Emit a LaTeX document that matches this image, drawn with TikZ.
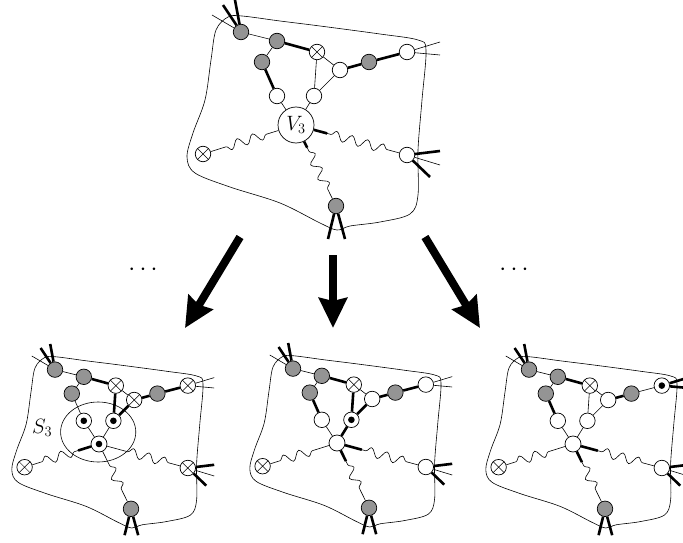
\documentclass[tikz,border=0pt]{standalone}
\usetikzlibrary{calc,arrows.meta,decorations.pathmorphing}

\tikzset{
  vtx/.style={circle,draw,line width=.7pt,minimum size=15.5pt,inner sep=0pt,fill=white},
  gr/.style={vtx,fill=black!42},
  wh/.style={vtx},
  crs/.style={vtx,path picture={\draw[line width=.5pt] (path picture bounding box.south west)--(path picture bounding box.north east) (path picture bounding box.north west)--(path picture bounding box.south east);}},
  dt/.style={vtx,path picture={\fill[black] (path picture bounding box.center) circle (3.3pt);}},
  ln/.style={line width=.6pt},
  fat/.style={line width=2.6pt},
  wig/.style={ln,decorate,decoration={snake,amplitude=4.5pt,segment length=16pt,pre length=4pt,post length=9pt}},
  bigarr/.style={line width=8pt,-{Stealth[length=30pt,width=28pt,inset=3pt]}},
  lbl/.style={font=\huge},
  % choices of the top picture, changed in the scopes below
  stC/.style=crs, stE/.style=wh, stG/.style=wh, stH/.style=wh, stI/.style=wh,
  stK/.style=wh, stV/.style={wh,minimum size=36pt},
  eDH/.style=fat, eCI/.style=ln, eEI/.style=ln, eIV/.style=ln, eEF/.style=fat,
  eFG/.style=fat, xG/.style=ln, sJ/.style=ln, sK/.style=fat, sL/.style=fat
}

% #1 prefix, #2 text in V, #3 drawn under the vertices
\newcommand{\blob}[3]{%
  \draw[ln] plot[smooth cycle,tension=.55] coordinates {(-54,-109) (-16,-104) (24,-99) (84,-91) (122,-85) (130,-75) (126,-25) (122,25) (122,70) (114,89) (84,97) (54,101) (41,105) (24,98) (-16,78) (-66,62) (-101,48) (-109,32) (-103,8) (-91,-25) (-85,-65) (-80,-95) (-68,-108)};
  #3
  \node[gr] (#1-A) at (-55,-93) {};
  \node[gr] (#1-B) at (-19,-84) {};
  \node[stC] (#1-C) at (21,-73) {};
  \node[gr] (#1-D) at (-34,-63) {};
  \node[stE] (#1-E) at (44,-55) {};
  \node[gr] (#1-F) at (73,-63) {};
  \node[stG] (#1-G) at (111,-73) {};
  \node[stH] (#1-H) at (-19,-29) {};
  \node[stI] (#1-I) at (18,-29) {};
  \node[stV,lbl] (#1-V) at (0,0) {#2};
  \node[crs] (#1-J) at (-93,29) {};
  \node[stK] (#1-K) at (111,30) {};
  \node[gr] (#1-L) at (40,81) {};
  \draw[ln] (#1-A) -- (#1-B) (#1-B) -- (#1-D) (#1-C) -- (#1-E) (#1-H) -- (#1-V);
  \draw[fat] (#1-B) -- (#1-C);
  \draw[eDH] (#1-D) -- (#1-H);
  \draw[eCI] (#1-C) -- (#1-I);
  \draw[eEI] (#1-E) -- (#1-I);
  \draw[eIV] (#1-I) -- (#1-V);
  \draw[eEF] (#1-E) -- (#1-F);
  \draw[eFG] (#1-F) -- (#1-G);
  \foreach \t in {J,K,L}{
    \coordinate (#1-k\t) at ($(#1-V)!.28!(#1-\t)$);
    \draw[s\t] (#1-V) -- (#1-k\t);
    \draw[wig] (#1-k\t) -- (#1-\t);
  }
  % legs leaving the region
  \draw[fat] (#1-A) -- +(-18,-27) (#1-A) -- +(-6,-32);
  \draw[ln] (#1-A) -- +(-29,-17);
  \draw[xG] (#1-G) -- +(33,-10) (#1-G) -- +(33,3);
  \draw[fat] (#1-K) -- +(33,-4) (#1-K) -- +(23,22);
  \draw[ln] (#1-K) -- +(33,10);
  \draw[fat] (#1-L) -- +(-8,33) (#1-L) -- +(9,33);
}

\begin{document}
\begin{tikzpicture}[x=1pt,y=-1pt]
  \useasboundingbox (0,0) rectangle (683,543);

  \begin{scope}[shift={(296,125)}]
    \blob{top}{$V_3$}{}
  \end{scope}

  \begin{scope}[shift={(99,444)},scale=.8,stE/.style=crs,stG/.style=crs,stK/.style=crs,
      stH/.style=dt,stI/.style=dt,stV/.style={dt,minimum size=16pt},eDH/.style=ln,
      eCI/.style=fat,eEI/.style=fat,sJ/.style=fat,sK/.style=ln,sL/.style=ln]
    \blob{bl}{}{\draw[ln] (-1,-15) ellipse (47 and 37.5);
      \node[lbl] (bl-S) at (-71,-20) {$S_3$};}
  \end{scope}

  \begin{scope}[shift={(337,443)},scale=.8,stI/.style=dt,stV/.style={wh,minimum size=16pt},
      eCI/.style=fat,eEI/.style=fat,eIV/.style=fat]
    \blob{bm}{}{}
  \end{scope}

  \begin{scope}[shift={(573,444)},scale=.8,stG/.style=dt,stV/.style={wh,minimum size=16pt},
      eFG/.style=ln,xG/.style=fat]
    \blob{br}{}{}
  \end{scope}

  % branching
  \coordinate (p1) at (240,237); \coordinate (q1) at (185,328);
  \coordinate (p2) at (333,255); \coordinate (q2) at (333,328);
  \coordinate (p3) at (425,237); \coordinate (q3) at (480,328);
  \draw[bigarr] (p1) -- (q1);
  \draw[bigarr] (p2) -- (q2);
  \draw[bigarr] (p3) -- (q3);
  \node[font=\Huge] (d1) at (143,270) {$\cdots$};
  \node[font=\Huge] (d2) at (514,270) {$\cdots$};
\end{tikzpicture}
\end{document}
